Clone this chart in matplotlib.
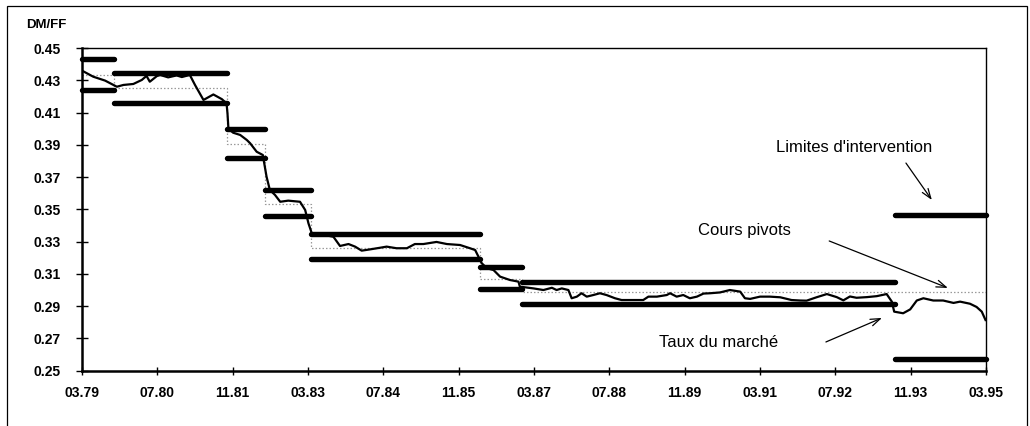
import matplotlib
matplotlib.use("Agg")
import matplotlib.pyplot as plt
from matplotlib.patches import Rectangle

plt.rcParams['font.family'] = ['Liberation Sans', 'DejaVu Sans']

# Month index from March 1979 (0) to March 1995 (192)
tick_months = [0, 16, 32, 48, 64, 80, 96, 112, 128, 144, 160, 176, 192]
tick_labels = ["03.79", "07.80", "11.81", "03.83", "07.84", "11.85", "03.87",
               "07.88", "11.89", "03.91", "07.92", "11.93", "03.95"]

# Parity regimes: start/end months of each central rate period
regime_breaks = [0, 6.7, 30.9, 38.9, 48.7, 84.5, 93.5, 172.6, 192]
pivot_rates = [0.4330, 0.4249, 0.3903, 0.3532, 0.3261, 0.3070, 0.2985, 0.2985]
upper_limits = [0.4430, 0.4347, 0.3998, 0.3620, 0.3345, 0.3140, 0.3052, 0.3468]
lower_limits = [0.4238, 0.4157, 0.3820, 0.3457, 0.3190, 0.3004, 0.2916, 0.2570]

# Market rate DM/FF
market_month = [0.3, 2.4, 4.9, 7.4, 8.8, 10.9, 12.7, 13.7, 14.4, 15.9, 16.6,
                18.3, 20.1, 21.2, 22.9, 24.0, 25.8, 27.9, 29.7, 30.7, 30.9,
                31.1, 32.1, 33.6, 35.0, 35.7, 37.1, 38.4, 39.2, 39.9, 41.0,
                42.1, 43.8, 46.3, 47.4, 48.1, 48.8, 50.6, 53.4, 54.8, 56.6,
                58.0, 59.4, 61.2, 63.3, 64.7, 66.8, 69.0, 70.7, 72.5, 75.3,
                77.5, 80.3, 82.4, 83.5, 84.2, 84.9, 86.0, 87.4, 88.8, 90.9,
                92.7, 93.0, 95.9, 98.0, 99.8, 100.8, 101.9, 103.3, 104.0,
                105.1, 106.1, 107.2, 108.6, 110.0, 111.4, 113.2, 114.6,
                117.1, 119.2, 120.3, 122.1, 124.2, 124.9, 126.3, 127.7,
                129.1, 130.6, 132.0, 133.4, 135.5, 137.6, 139.8, 140.8,
                141.9, 144.0, 146.1, 148.3, 150.7, 152.5, 153.9, 156.0,
                158.2, 160.3, 161.7, 163.1, 164.5, 166.7, 168.8, 170.9,
                172.0, 172.5, 174.4, 175.9, 177.3, 178.7, 180.8, 182.9,
                185.1, 186.5, 188.6, 190.0, 191.1, 191.9]
market_rate = [0.4355, 0.4322, 0.4298, 0.4260, 0.4271, 0.4277, 0.4302, 0.4327,
               0.4291, 0.4326, 0.4333, 0.4318, 0.4330, 0.4320, 0.4333, 0.4271,
               0.4178, 0.4212, 0.4183, 0.4157, 0.4095, 0.4000, 0.3975, 0.3961,
               0.3930, 0.3910, 0.3857, 0.3837, 0.3702, 0.3620, 0.3589, 0.3547,
               0.3554, 0.3547, 0.3496, 0.3413, 0.3352, 0.3347, 0.3330, 0.3273,
               0.3285, 0.3269, 0.3244, 0.3252, 0.3262, 0.3269, 0.3259, 0.3259,
               0.3285, 0.3285, 0.3298, 0.3285, 0.3279, 0.3259, 0.3248, 0.3207,
               0.3166, 0.3135, 0.3124, 0.3083, 0.3062, 0.3052, 0.3021, 0.3010,
               0.3000, 0.3014, 0.3000, 0.3010, 0.3000, 0.2949, 0.2959, 0.2980,
               0.2959, 0.2969, 0.2980, 0.2969, 0.2949, 0.2938, 0.2938, 0.2938,
               0.2959, 0.2959, 0.2969, 0.2980, 0.2959, 0.2969, 0.2949, 0.2959,
               0.2978, 0.2980, 0.2985, 0.3000, 0.2990, 0.2949, 0.2945, 0.2959,
               0.2959, 0.2955, 0.2938, 0.2935, 0.2934, 0.2955, 0.2975, 0.2956,
               0.2936, 0.2960, 0.2952, 0.2956, 0.2962, 0.2975, 0.2928, 0.2866,
               0.2856, 0.2880, 0.2935, 0.2949, 0.2935, 0.2935, 0.2920, 0.2928,
               0.2915, 0.2895, 0.2866, 0.2814]

yticks = [0.25, 0.27, 0.29, 0.31, 0.33, 0.35, 0.37, 0.39, 0.41, 0.43, 0.45]

fig = plt.figure(figsize=(10.3, 4.26), dpi=100)
ax = fig.add_axes([82 / 1030, 1 - 370.7 / 426, (986 - 82) / 1030, (370.7 - 48) / 426])

# Central (pivot) rates as a thin dotted step line
ax.step(regime_breaks, pivot_rates + [pivot_rates[-1]], where='post',
        color='#9a9a9a', lw=0.9, linestyle=(0, (1.2, 1.6)), zorder=2)

# Intervention limits
for i in range(len(pivot_rates)):
    x0, x1 = regime_breaks[i], regime_breaks[i + 1]
    for lvl in (upper_limits[i], lower_limits[i]):
        ax.plot([x0, x1], [lvl, lvl], color='black', lw=3.9,
                solid_capstyle='round', clip_on=False, zorder=3)

# Market rate
ax.plot(market_month, market_rate, color='black', lw=1.6, zorder=4)

ax.set_xlim(0, 192)
ax.set_ylim(0.25, 0.45)
ax.set_xticks(tick_months)
ax.set_xticklabels(tick_labels)
ax.set_yticks(yticks)
ax.set_yticklabels([f"{v:.2f}" for v in yticks])

for lbl in ax.get_xticklabels() + ax.get_yticklabels():
    lbl.set_fontweight('bold')
    lbl.set_fontsize(10)

ax.tick_params(axis='y', direction='inout', length=9, width=1, pad=11)
ax.tick_params(axis='x', direction='inout', length=6, width=1, pad=8)

for side in ('left', 'bottom'):
    ax.spines[side].set_linewidth(1.8)
for side in ('top', 'right'):
    ax.spines[side].set_linewidth(1.0)

ax.text(-0.062, 1.07, "DM/FF", transform=ax.transAxes, fontsize=9.5,
        fontweight='bold', ha='left', va='center')

# Annotations
ax.text(164.0, 0.3886, "Limites d'intervention", fontsize=12, ha='center', va='center')
ax.annotate('', xy=(180.5, 0.3558), xytext=(175.0, 0.3787),
            arrowprops=dict(arrowstyle='->,head_length=0.7,head_width=0.25',
                            lw=0.9, color='black', shrinkA=0, shrinkB=0))

ax.text(140.6, 0.3372, "Cours pivots", fontsize=12, ha='center', va='center')
ax.annotate('', xy=(183.9, 0.3013), xytext=(158.7, 0.3304),
            arrowprops=dict(arrowstyle='->,head_length=0.7,head_width=0.25',
                            lw=0.9, color='black', shrinkA=0, shrinkB=0))

ax.text(135.2, 0.2672, "Taux du marché", fontsize=12, ha='center', va='center')
ax.annotate('', xy=(169.9, 0.2827), xytext=(158.0, 0.2678),
            arrowprops=dict(arrowstyle='->,head_length=0.7,head_width=0.25',
                            lw=0.9, color='black', shrinkA=0, shrinkB=0))

# Outer frame
fig.patches.append(Rectangle((7 / 1030, -0.02), (1027 - 7) / 1030, 1 - 6 / 426 + 0.02,
                             transform=fig.transFigure, fill=False,
                             edgecolor='black', lw=0.9))

fig.savefig("out.png", dpi=100)
